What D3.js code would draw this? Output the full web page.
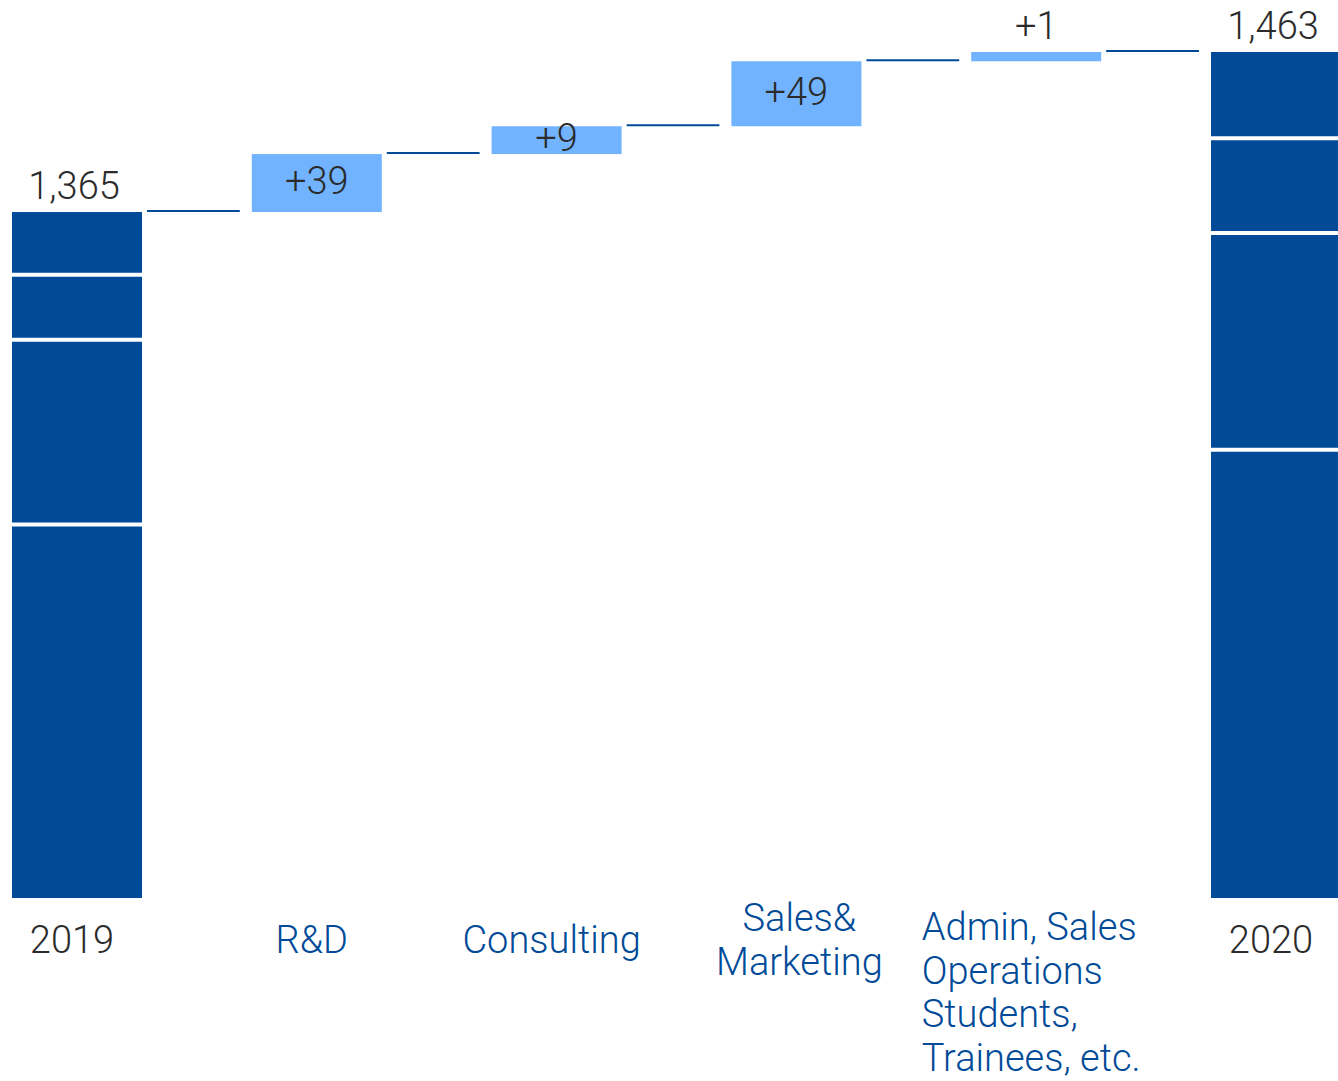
<!DOCTYPE html>
<html>
<head>
<meta charset="utf-8">
<script src="https://cdn.jsdelivr.net/npm/d3@7"></script>
<style>
    body { margin: 0; background: #fff; }
    svg { display: block; font-family: Roboto, "Helvetica Neue", Arial, sans-serif; font-weight: 300; }
</style>
</head>
<body>
<svg></svg>
<script>
// waterfall: headcount 2019 -> 2020
const categories = ["2019", "R&D", "Consulting", "Sales& Marketing", "Admin, Sales Operations Students, Trainees, etc.", "2020"];
const labelLines = [["2019"], ["R&D"], ["Consulting"], ["Sales&", "Marketing"], ["Admin, Sales", "Operations", "Students,", "Trainees, etc."], ["2020"]];
const totals = { "2019": 1365, "2020": 1463 };
const changes = [39, 9, 49, 1];
// stacked parts of the total bars, bottom to top (estimated)
const parts2019 = [743, 368, 129, 125];
const parts2020 = [775, 375, 164, 149];

const width = 1338,
    height = 1081,
    baseY = 898,
    topY = 52,
    fontSize = 38,
    darkBlue = "#004a98",
    lightBlue = "#72b3ff",
    textGrey = "#2b2b2b";

const svg = d3.select("svg").attr("width", width).attr("height", height);

const xScale = d3.scaleBand().domain(categories).range([12, 1341]);
xScale.paddingInner(1 - 130 / ((1341 - 12 - 130) / 5)).paddingOuter(0);
const bw = xScale.bandwidth();

// step boxes are drawn on a root scale so the small changes stay visible
const stepScale = d3.scaleSqrt().domain([0, 1]).range([0, 9.28]);

const stepHeights = changes.map((d) => stepScale(d));
const startTop = topY + d3.sum(stepHeights);

// running level for each step
let level = startTop;
const steps = changes.map((d, i) => {
    const bottom = level;
    const top = level - stepHeights[i];
    level = top;
    return { name: categories[i + 1], value: d, top: top, bottom: bottom };
});

const totalBars = [
    { name: "2019", value: totals["2019"], top: startTop, parts: parts2019 },
    { name: "2020", value: totals["2020"], top: level, parts: parts2020 },
];

// total bars with their segments
totalBars.forEach((bar) => {
    const y = d3.scaleLinear().domain([0, bar.value]).range([baseY, bar.top]);
    let acc = 0;
    const segs = bar.parts.map((p) => {
        const s = { from: acc, to: acc + p };
        acc += p;
        return s;
    });
    svg.append("g")
        .selectAll("rect")
        .data(segs)
        .enter()
        .append("rect")
        .attr("x", xScale(bar.name))
        .attr("width", bw)
        .attr("y", (d) => y(d.to))
        .attr("height", (d) => y(d.from) - y(d.to))
        .attr("fill", darkBlue);
    svg.append("g")
        .selectAll("line")
        .data(segs.slice(1))
        .enter()
        .append("line")
        .attr("x1", xScale(bar.name))
        .attr("x2", xScale(bar.name) + bw)
        .attr("y1", (d) => y(d.from))
        .attr("y2", (d) => y(d.from))
        .attr("stroke", "#fff")
        .attr("stroke-width", 4);
    svg.append("text")
        .attr("x", xScale(bar.name) + bw / 2 - 3)
        .attr("y", bar.top - 13)
        .attr("text-anchor", "middle")
        .attr("font-size", fontSize)
        .attr("fill", textGrey)
        .text(d3.format(",")(bar.value));
});

// change boxes
svg.append("g")
    .selectAll("rect")
    .data(steps)
    .enter()
    .append("rect")
    .attr("x", (d) => xScale(d.name))
    .attr("width", bw)
    .attr("y", (d) => d.top)
    .attr("height", (d) => d.bottom - d.top)
    .attr("fill", lightBlue);

svg.append("g")
    .selectAll("text")
    .data(steps)
    .enter()
    .append("text")
    .attr("x", (d) => xScale(d.name) + bw / 2)
    .attr("y", (d) => (d.bottom - d.top > 20 ? (d.top + d.bottom) / 2 - 2 : d.top - 13))
    .attr("dy", (d) => (d.bottom - d.top > 20 ? "0.35em" : 0))
    .attr("text-anchor", "middle")
    .attr("font-size", fontSize)
    .attr("fill", textGrey)
    .text((d) => "+" + d.value);

// connectors between levels
const levels = [startTop].concat(steps.map((d) => d.top));
svg.append("g")
    .selectAll("line")
    .data(levels)
    .enter()
    .append("line")
    .attr("x1", (d, i) => xScale(categories[i]) + bw + 5)
    .attr("x2", (d, i) => xScale(categories[i + 1]) - 12)
    .attr("y1", (d) => d - 1)
    .attr("y2", (d) => d - 1)
    .attr("stroke", darkBlue)
    .attr("stroke-width", 2);

// category labels
categories.forEach((c, i) => {
    const lines = labelLines[i];
    const isTotal = c === "2019" || c === "2020";
    const cx = xScale(c) + bw / 2 + (lines.length === 2 ? 3 : -5);
    const t = svg.append("text")
        .attr("font-size", fontSize)
        .attr("fill", isTotal ? textGrey : darkBlue);
    const lineH = lines.length > 2 ? 43.7 : 44.5;
    const firstY = lines.length > 2 ? 940 : 953 - ((lines.length - 1) * lineH) / 2;
    lines.forEach((l, j) => {
        t.append("tspan").attr("y", firstY + j * lineH).text(l);
    });
    if (lines.length > 2) {
        const maxW = d3.max(t.selectAll("tspan").nodes(), (n) => n.getComputedTextLength());
        t.selectAll("tspan").attr("x", cx - maxW / 2);
    } else {
        t.attr("text-anchor", "middle");
        t.selectAll("tspan").attr("x", cx);
    }
});
</script>
</body>
</html>
